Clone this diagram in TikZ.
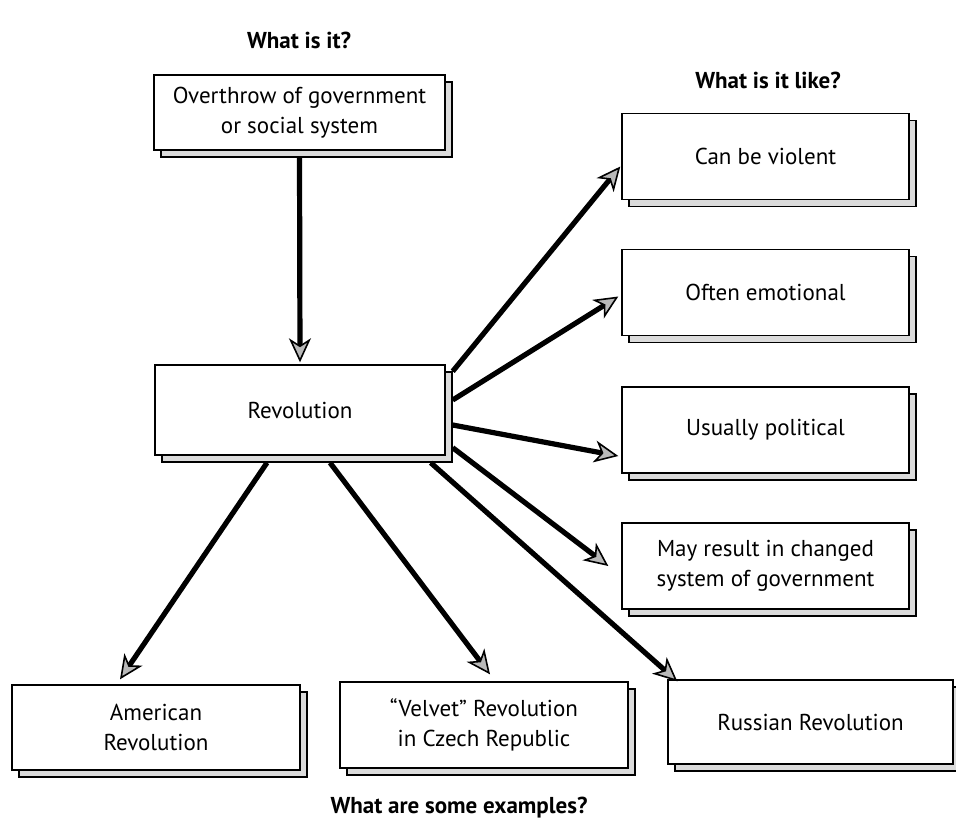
\documentclass[tikz,border=0pt]{standalone}
\usepackage{fontspec}
\setmainfont{PT Sans}
\usetikzlibrary{arrows.meta,shadows,calc}
\tikzset{
  box/.style={draw=black, line width=0.7pt, fill=white, align=center,
    inner sep=2pt, font=\fontsize{11.5}{15}\selectfont,
    copy shadow={shadow xshift=3.5pt, shadow yshift=-3.5pt, fill=gray!28, draw=black, line width=0.6pt}},
  rbox/.style={box, minimum width=143.5pt, minimum height=43pt},
  head/.style={font=\fontsize{11.5}{14}\selectfont\bfseries},
  arr/.style={line width=2.6pt, -{Stealth[length=12pt, width=11pt, inset=3.5pt, fill=gray!55, line width=0.8pt]}}
}
\begin{document}
\begin{tikzpicture}[x=0.5pt,y=-0.5pt]
\useasboundingbox (0,0) rectangle (956,825);
\node[head] (h1) at (299,40) {What is it?};
\node[head] (h2) at (768,80) {What is it like?};
\node[head] (h3) at (459,808) {What are some examples?};

\node[box, minimum width=145.5pt, minimum height=37.5pt] (top) at (299.5,112.5) {Overthrow of government\\or social system};
\node[box, minimum width=145pt, minimum height=45pt] (rev) at (300,410) {Revolution};

\node[rbox] (vio) at (765.5,156.5) {Can be violent};
\node[rbox] (emo) at (765.5,292.5) {Often emotional};
\node[rbox] (pol) at (765.5,430) {Usually political};
\node[rbox] (may) at (765.5,566) {May result in changed\\system of government};

\node[box, minimum width=144pt, minimum height=42.5pt] (ame) at (156,727.5) {American\\Revolution};
\node[box, minimum width=144pt, minimum height=43pt] (vel) at (484,725) {``Velvet'' Revolution\\in Czech Republic};
\node[box, minimum width=142.5pt, minimum height=42pt] (rus) at (810.5,722) {Russian Revolution};

\draw[arr] ($(top.south)+(0,7)$) -- ($(rev.north)+(0,-2)$);
\draw[arr] ($(rev.north east)+(7,7)$) -- ($(vio.west)+(-1,10)$);
\draw[arr] ($(rev.east)+(7,-10)$) -- ($(emo.west)+(-3,4)$);
\draw[arr] ($(rev.east)+(7,15)$) -- ($(pol.west)+(-3,26)$);
\draw[arr] ($(rev.south east)+(7,-8)$) -- ($(may.west)+(-13,0)$);
\draw[arr] ($(rev.south)+(-33,7)$) -- ($(ame.north)+(-36,-5)$);
\draw[arr] ($(rev.south)+(30,7)$) -- ($(vel.north)+(6,-7)$);
\draw[arr] ($(rev.south east)+(-15,7)$) -- ($(rus.north west)+(10,2)$);
\end{tikzpicture}
\end{document}
